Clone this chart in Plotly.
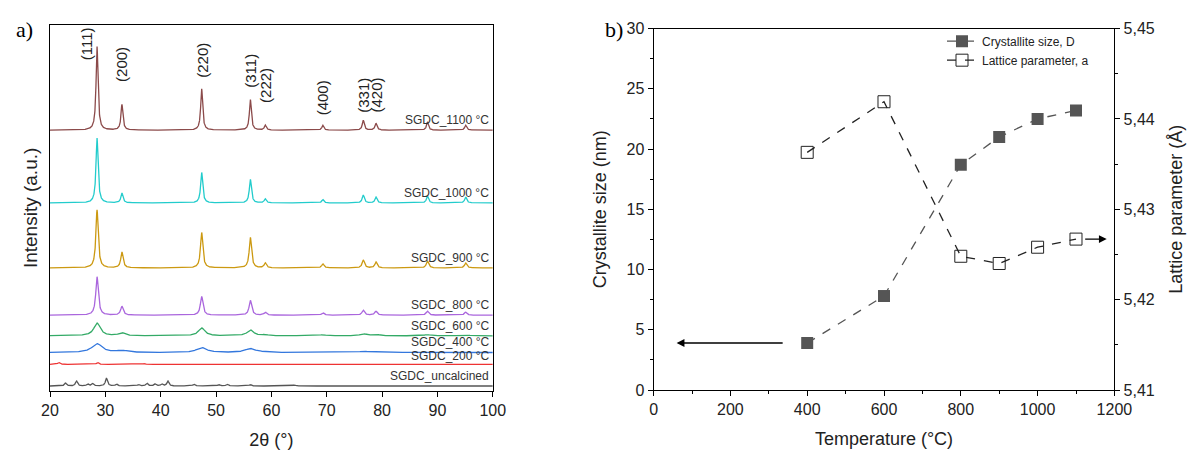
import numpy as np
import plotly.graph_objects as go

# ---- panel a) XRD patterns: read peak positions / heights / widths from the picture
samples = ['SGDC_uncalcined', 'SGDC_200 °C', 'SGDC_400 °C', 'SGDC_600 °C',
           'SGDC_800 °C', 'SGDC_900 °C', 'SGDC_1000 °C', 'SGDC_1100 °C']
colors = ['#555555', '#ee3333', '#3377dd', '#33aa66', '#aa66dd', '#cc9911', '#22cccc', '#8b4a4a']
baselines = [5, 27, 39, 56, 77, 125, 191, 265]
label_y = [7, 27.5, 41.5, 58, 79, 127, 193, 267]

fluorite_pos = [28.5, 33.0, 47.4, 56.2, 58.9, 69.3, 76.6, 78.9, 88.2, 95.1]
peak_pos = [
    [22.8, 24.8, 26.8, 27.7, 30.2, 32.0, 36.0, 37.5, 39.0, 40.2, 41.3, 46.0, 50.5, 52.0, 56.2, 64.2],
    [21.6, 28.6, 37.0],
    fluorite_pos,
    fluorite_pos,
    fluorite_pos,
    fluorite_pos,
    fluorite_pos,
    fluorite_pos,
]
peak_h = [
    [3, 5, 2, 2.5, 8, 2, 1.5, 3, 2, 2, 5, 2, 1.5, 2, 1.5, 1],
    [2, 2, 0.8],
    [9, 2, 5, 4, 0.5, 0.5, 1, 0.8, 0.7, 0.5],
    [13, 3, 8, 6, 1, 1, 2, 1.5, 1.2, 1],
    [39, 9, 19, 15, 3, 2.5, 5, 4, 4, 3],
    [59, 16, 36, 31, 5, 4, 8, 6, 7, 5],
    [66, 10, 31, 24, 4, 3.5, 8, 6, 7, 6],
    [85, 26, 42, 31, 5, 5, 10, 7, 8, 5],
]
peak_w = [0.45, 0.5, 2.2, 1.4, 0.55, 0.5, 0.45, 0.42]

hkl_labels = ['(111)', '(200)', '(220)', '(311)', '(222)', '(400)', '(331)', '(420)']
hkl_x = [26.5, 33.0, 47.4, 56.2, 58.9, 69.3, 76.6, 78.9]
hkl_top = [372, 352, 356, 345, 330, 318, 320, 320]

# ---- panel b)
temps = [400, 600, 800, 900, 1000, 1100]
cryst_size = [3.9, 7.8, 18.7, 21.0, 22.5, 23.2]
lattice = [5.4363, 5.4419, 5.4248, 5.4240, 5.4258, 5.4267]

fig = go.Figure()
tt = np.linspace(20, 100, 4000)
for name, col, base, pos, hh, w in zip(samples, colors, baselines, peak_pos, peak_h, peak_w):
    y = np.full_like(tt, float(base))
    for p, h in zip(pos, hh):
        y += h / (1 + ((tt - p) / (w / 2)) ** 2)
    fig.add_trace(go.Scatter(x=tt, y=y, mode='lines', line=dict(color=col, width=1.3),
                             showlegend=False, xaxis='x', yaxis='y'))
for name, ly in zip(samples, label_y):
    fig.add_annotation(x=99.5, y=ly, text=name, showarrow=False, xanchor='right',
                       yanchor='bottom', xref='x', yref='y', borderpad=0,
                       font=dict(size=12, color='#333'))
for lab, x, top in zip(hkl_labels, hkl_x, hkl_top):
    fig.add_annotation(x=x, y=top, text=lab, textangle=-90, showarrow=False, xref='x', yref='y',
                       yanchor='top', font=dict(size=15, color='#222'))

fig.add_trace(go.Scatter(x=temps, y=cryst_size, mode='lines+markers', name='Crystallite size, D',
                         line=dict(color='#555', dash='dash', width=1.3),
                         marker=dict(symbol='square', size=12, color='#555'),
                         xaxis='x2', yaxis='y2'))
fig.add_trace(go.Scatter(x=temps, y=lattice, mode='lines+markers', name='Lattice parameter, a',
                         line=dict(color='#222', dash='dash', width=1.3),
                         marker=dict(symbol='square-open', size=12, color='#222', line=dict(width=1)),
                         xaxis='x2', yaxis='y3'))
fig.add_annotation(x=60, y=3.9, ax=340, ay=3.9, xref='x2', yref='y2', axref='x2', ayref='y2',
                   showarrow=True, arrowhead=2, arrowsize=1.2, arrowwidth=1.3, arrowcolor='black', text='')
fig.add_annotation(x=1180, y=5.4267, ax=1120, ay=5.4267, xref='x2', yref='y3', axref='x2', ayref='y3',
                   showarrow=True, arrowhead=2, arrowsize=1.2, arrowwidth=1.3, arrowcolor='black', text='')

fig.add_annotation(x=0.005, y=0.985, xref='paper', yref='paper', text='a)', showarrow=False,
                   font=dict(family='Liberation Serif', size=22, color='black'))
fig.add_annotation(x=0.505, y=0.985, xref='paper', yref='paper', text='b)', showarrow=False,
                   font=dict(family='Liberation Serif', size=22, color='black'))

ax = dict(showline=True, linecolor='black', linewidth=1, mirror=True, ticks='outside',
          tickcolor='black', showgrid=False, zeroline=False, automargin=False)
fig.update_layout(
    width=1200, height=467, paper_bgcolor='white', plot_bgcolor='white',
    margin=dict(l=0, r=0, t=0, b=0),
    font=dict(family='Liberation Sans', size=16, color='#222'),
    xaxis=dict(**ax, domain=[0.035, 0.404], range=[20, 100], dtick=10,
               title=dict(text='2θ (°)', font=dict(size=18))),
    yaxis=dict(showline=True, linecolor='black', mirror=True, showgrid=False, zeroline=False,
               automargin=False,
               domain=[0.18, 0.964], range=[0, 372], showticklabels=False, ticks='',
               title=dict(text='Intensity (a.u.)', font=dict(size=19), standoff=6)),
    xaxis2=dict(**ax, domain=[0.538, 0.922], range=[0, 1200], dtick=200, anchor='y2',
                minor=dict(ticks='outside', dtick=100, tickcolor='black'),
                title=dict(text='Temperature (°C)', font=dict(size=18))),
    yaxis2=dict(showline=True, linecolor='black', ticks='outside', tickcolor='black', showgrid=False,
                zeroline=False, automargin=False,
                domain=[0.182, 0.956], range=[0, 30], dtick=5, anchor='x2',
                minor=dict(ticks='outside', dtick=2.5, tickcolor='black'),
                title=dict(text='Crystallite size (nm)', font=dict(size=18))),
    yaxis3=dict(showline=True, linecolor='black', ticks='outside', tickcolor='black', showgrid=False,
                zeroline=False, automargin=False,
                overlaying='y2', side='right', anchor='x2', range=[5.41, 5.45],
                tickvals=[5.41, 5.42, 5.43, 5.44, 5.45],
                ticktext=['5,41', '5,42', '5,43', '5,44', '5,45'],
                minor=dict(ticks='outside', dtick=0.005, tickcolor='black'),
                title=dict(text='Lattice parameter (Å)', font=dict(size=18))),
    legend=dict(x=0.905, y=0.96, xanchor='right', yanchor='top', bgcolor='rgba(0,0,0,0)',
                font=dict(size=12), tracegroupgap=0),
)
fig.write_html('out.html')
